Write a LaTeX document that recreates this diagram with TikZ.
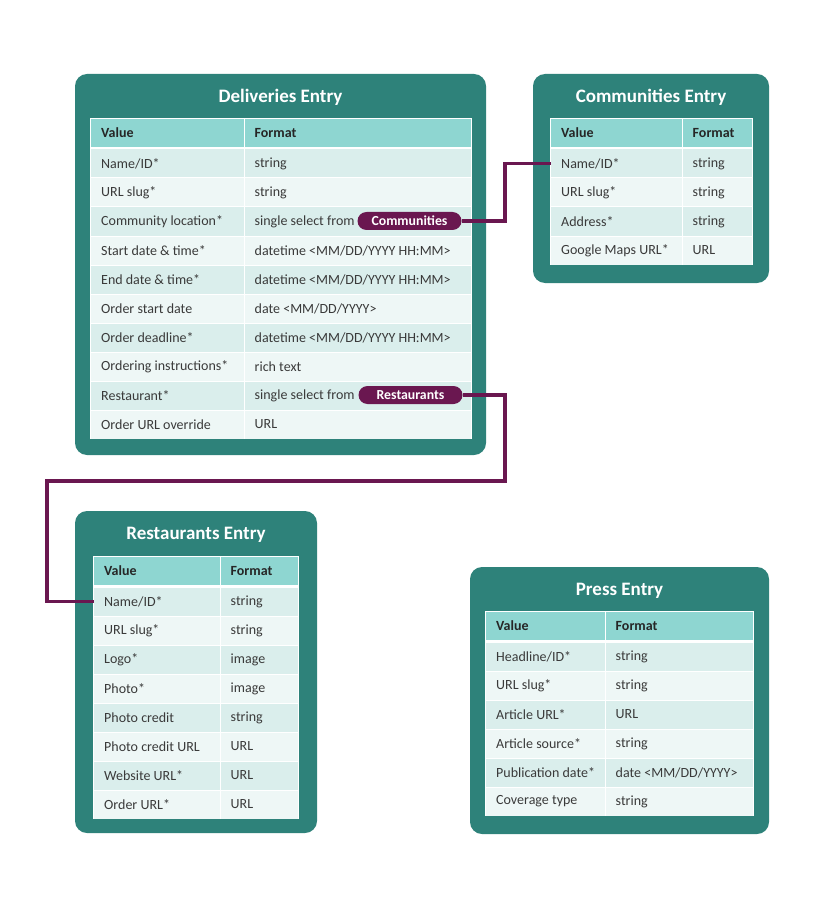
\documentclass[tikz,border=0pt]{standalone}
\usepackage{fontspec}
\setmainfont{Carlito}
\definecolor{teal1}{HTML}{2E827A}
\definecolor{hdrc}{HTML}{8ED6D1}
\definecolor{rowA}{HTML}{DAEEEC}
\definecolor{rowB}{HTML}{EEF7F6}
\definecolor{plum}{HTML}{6A1750}
\definecolor{txtc}{HTML}{3A3A3A}
\tikzset{
  entrybox/.style={fill=teal1, rounded corners=12pt},
  titletxt/.style={text=white, font=\fontsize{19}{22}\selectfont\bfseries, inner sep=0pt},
  cellbox/.style={minimum height=28pt, inner sep=0pt, outer sep=0pt},
  bodytxt/.style={text=txtc, font=\fontsize{14}{16}\selectfont, inner sep=0pt},
  hdrtxt/.style={text=black!85, font=\fontsize{14}{16}\selectfont\bfseries, inner sep=0pt},
  pill/.style={fill=plum, text=white, rounded corners=9pt, minimum width=104pt, minimum height=18pt, inner sep=0pt, font=\fontsize{13.8}{16}\selectfont\bfseries},
  link/.style={draw=plum, line width=3.2pt}
}
\newcommand\tbl[6]{% id, x0, xm, x1, ytop, nrows
  \def\TXa{#2}\def\TXm{#3}\def\TXb{#4}\def\TY{#5}%
  \fill[white] ({#2-1},{#5-1}) rectangle ({#4+1},{#5+30+#6*29});
  \node[cellbox, fill=hdrc, minimum width=#3-#2-0.5, anchor=north west] (#1hv) at (#2,#5) {};
  \node[hdrtxt, anchor=west] (#1hvt) at ([xshift=10pt]#1hv.west) {Value};
  \node[cellbox, fill=hdrc, minimum width=#4-#3-0.5, anchor=north west] (#1hf) at ({#3+0.5},#5) {};
  \node[hdrtxt, anchor=west] (#1hft) at ([xshift=10pt]#1hf.west) {Format};
}
\newcommand\trow[4]{% id, i, value, format
  \pgfmathsetmacro\ry{\TY+30.5+(#2-1)*29}%
  \pgfmathtruncatemacro\rp{mod(#2,2)}%
  \ifnum\rp=1 \def\rc{rowA}\else\def\rc{rowB}\fi
  \node[cellbox, fill=\rc, minimum width=\TXm-\TXa-0.5, anchor=north west] (#1v#2) at (\TXa,\ry) {};
  \node[bodytxt, anchor=west] (#1vt#2) at ([xshift=10pt]#1v#2.west) {#3};
  \node[cellbox, fill=\rc, minimum width=\TXb-\TXm-0.5, anchor=north west] (#1f#2) at ({\TXm+0.5},\ry) {};
  \node[bodytxt, anchor=west] (#1ft#2) at ([xshift=10pt]#1f#2.west) {#4};
}
\begin{document}
\begin{tikzpicture}[x=1pt,y=-1pt]
\useasboundingbox (0,0) rectangle (831,909);
% boxes
\fill[entrybox] (75,74) rectangle (486,455);
\fill[entrybox] (533,74) rectangle (769,283);
\fill[entrybox] (75,511) rectangle (317,833);
\fill[entrybox] (470,567) rectangle (769,834);
\node[titletxt] (delt) at (280.5,97) {Deliveries Entry};
\node[titletxt] (comt) at (651,97) {Communities Entry};
\node[titletxt] (rest) at (196,535) {Restaurants Entry};
\node[titletxt] (prst) at (619.5,591) {Press Entry};
% Deliveries
\tbl{del}{91}{244}{471}{119}{10}
\trow{del}{1}{Name/ID*}{string}
\trow{del}{2}{URL slug*}{string}
\trow{del}{3}{Community location*}{single select from}
\trow{del}{4}{Start date \& time*}{datetime <MM/DD/YYYY HH:MM>}
\trow{del}{5}{End date \& time*}{datetime <MM/DD/YYYY HH:MM>}
\trow{del}{6}{Order start date}{date <MM/DD/YYYY>}
\trow{del}{7}{Order deadline*}{datetime <MM/DD/YYYY HH:MM>}
\trow{del}{8}{Ordering instructions*}{rich text}
\trow{del}{9}{Restaurant*}{single select from}
\trow{del}{10}{Order URL override}{URL}
% Communities
\tbl{com}{551}{682}{752}{119}{4}
\trow{com}{1}{Name/ID*}{string}
\trow{com}{2}{URL slug*}{string}
\trow{com}{3}{Address*}{string}
\trow{com}{4}{Google Maps URL*}{URL}
% Restaurants
\tbl{res}{94}{220}{298}{557}{8}
\trow{res}{1}{Name/ID*}{string}
\trow{res}{2}{URL slug*}{string}
\trow{res}{3}{Logo*}{image}
\trow{res}{4}{Photo*}{image}
\trow{res}{5}{Photo credit}{string}
\trow{res}{6}{Photo credit URL}{URL}
\trow{res}{7}{Website URL*}{URL}
\trow{res}{8}{Order URL*}{URL}
% Press
\tbl{prs}{486}{605}{753}{612}{6}
\trow{prs}{1}{Headline/ID*}{string}
\trow{prs}{2}{URL slug*}{string}
\trow{prs}{3}{Article URL*}{URL}
\trow{prs}{4}{Article source*}{string}
\trow{prs}{5}{Publication date*}{date <MM/DD/YYYY>}
\trow{prs}{6}{Coverage type}{string}
% pills
\node[pill] (compill) at (409.5,221) {Communities};
\node[pill] (respill) at (410.5,395) {Restaurants};
% connectors
\coordinate (c1) at (505,221);
\coordinate (r1) at (505,481);
\coordinate (r2) at (47,481);
\draw[link] (compill.east) -- (c1) |- (comv1.west);
\draw[link] (respill.east) -| (r1) -- (r2) |- (resv1.west);
\end{tikzpicture}
\end{document}
